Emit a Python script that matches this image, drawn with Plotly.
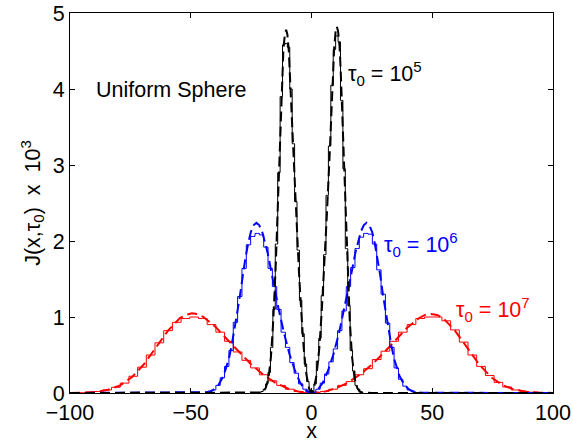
import numpy as np
import plotly.graph_objects as go

# ---------------- data ----------------
# Analytic (dashed) curves
black_x = [-100, -25, -21, -19.9, -18.9, -17.8, -16.8, -15.8, -15.2, -14.7,
           -14.2, -13.6, -13.1, -12.6, -12.1, -11.6, -11.0, -10.5, -10.0, -9.4,
           -8.4, -7.4, -6.3, -5.2, -4.2, -3.2, -2.1, -1.0, 0,
           1.0, 2.1, 3.2, 4.2, 5.2, 6.3, 7.4, 8.4, 9.4, 10.0,
           10.5, 11.0, 11.6, 12.1, 12.6, 13.1, 13.6, 14.2, 14.7, 15.2,
           15.8, 16.8, 17.8, 18.9, 19.9, 21, 25, 100]
black_y = [0, 0, 0.006, 0.02, 0.07, 0.20, 0.47, 0.97, 1.33, 1.76,
           2.24, 2.77, 3.30, 3.79, 4.22, 4.55, 4.72, 4.78, 4.72, 4.50,
           3.80, 3.05, 2.30, 1.60, 1.05, 0.58, 0.24, 0.06, 0,
           0.06, 0.24, 0.58, 1.05, 1.60, 2.30, 3.05, 3.85, 4.55, 4.76,
           4.82, 4.76, 4.57, 4.24, 3.81, 3.32, 2.79, 2.25, 1.77, 1.34,
           0.98, 0.47, 0.20, 0.07, 0.02, 0.006, 0, 0]

blue_x = [-100, -46, -43.3, -41.0, -38.8, -36.5, -34.2, -33.1, -31.9, -30.8,
          -29.6, -28.5, -27.4, -26.2, -25.1, -23.9, -22.8, -21.7, -20.5, -18.2,
          -16.0, -13.7, -11.4, -9.1, -6.8, -4.6, -2.3, 0,
          2.3, 4.6, 6.8, 9.1, 11.4, 13.7, 16.0, 18.2, 20.5, 21.7,
          22.8, 23.9, 25.1, 26.2, 27.4, 28.5, 29.6, 30.8, 31.9, 33.1,
          34.2, 36.5, 38.8, 41.0, 43.3, 46, 100]
blue_y = [0, 0.003, 0.011, 0.034, 0.09, 0.22, 0.45, 0.62, 0.82, 1.05,
          1.29, 1.54, 1.77, 1.97, 2.12, 2.21, 2.24, 2.21, 2.13, 1.85,
          1.49, 1.12, 0.79, 0.51, 0.29, 0.13, 0.03, 0,
          0.03, 0.13, 0.29, 0.51, 0.79, 1.12, 1.49, 1.85, 2.13, 2.21,
          2.24, 2.21, 2.12, 1.97, 1.77, 1.54, 1.29, 1.05, 0.82, 0.62,
          0.45, 0.22, 0.09, 0.034, 0.011, 0.003, 0]

red_x = [-100, -99.0, -94.1, -89.1, -84.2, -79.2, -74.3, -69.3, -64.4, -59.4,
         -54.5, -52.0, -49.5, -47.0, -44.6, -39.6, -34.7, -29.7, -24.8, -19.8,
         -14.9, -9.9, -5.0, 0, 5.0, 9.9, 14.9, 19.8, 24.8, 29.7,
         34.7, 39.6, 44.6, 47.0, 49.5, 52.0, 54.5, 59.4, 64.4, 69.3,
         74.3, 79.2, 84.2, 89.1, 94.1, 99.0, 100]
red_y = [0.001, 0.001, 0.005, 0.016, 0.043, 0.101, 0.210, 0.381, 0.600, 0.821,
         0.985, 1.027, 1.05, 1.038, 0.997, 0.866, 0.698, 0.527, 0.370, 0.238,
         0.134, 0.060, 0.015, 0, 0.015, 0.059, 0.133, 0.236, 0.367, 0.522,
         0.692, 0.858, 0.987, 1.028, 1.04, 1.027, 0.985, 0.821, 0.600, 0.381,
         0.210, 0.101, 0.043, 0.016, 0.005, 0.001, 0.001]

# Monte-Carlo histograms (solid steps)
black_bins = np.round(np.arange(-21.5, 21.6, 1.0), 2)
black_hist = [0.0, 0.02, 0.05, 0.12, 0.27, 0.60, 1.10, 1.96, 2.90, 3.90,
              4.58, 4.60, 4.55, 4.00, 3.28, 2.52, 1.88, 1.22, 0.78, 0.38,
              0.15, 0.02,
              0.02, 0.12, 0.42, 0.72, 1.28, 1.82, 2.60, 3.25, 4.05, 4.52,
              4.70, 4.62, 3.85, 2.95, 1.90, 1.15, 0.56, 0.29, 0.10, 0.05,
              0.01, 0.0]

blue_bins = np.round(np.arange(-44.1, 44.2, 1.8), 2)
blue_hist = [0.005, 0.02, 0.04, 0.10, 0.20, 0.35, 0.56, 0.93, 1.27, 1.64,
             1.95, 2.06, 2.10, 2.08, 1.92, 1.64, 1.40, 1.10, 0.80, 0.60,
             0.40, 0.26, 0.12, 0.05, 0.01,
             0.01, 0.05, 0.13, 0.25, 0.41, 0.58, 0.82, 1.08, 1.40, 1.65,
             1.90, 2.05, 2.10, 2.09, 1.96, 1.62, 1.30, 0.92, 0.60, 0.33,
             0.18, 0.09, 0.04, 0.015, 0.005]

red_bins = np.round(np.arange(-99.0, 99.1, 3.6), 2)
red_hist = [0.002, 0.004, 0.01, 0.02, 0.04, 0.075, 0.13, 0.22, 0.34, 0.50,
            0.66, 0.82, 0.93, 0.98, 1.00, 0.98, 0.90, 0.80, 0.68, 0.54,
            0.43, 0.33, 0.24, 0.16, 0.10, 0.05, 0.02, 0.005,
            0.005, 0.02, 0.05, 0.10, 0.15, 0.24, 0.32, 0.44, 0.55, 0.68,
            0.80, 0.90, 0.98, 1.00, 1.00, 0.95, 0.83, 0.67, 0.50, 0.35,
            0.23, 0.14, 0.08, 0.04, 0.02, 0.01, 0.005, 0.002]

x_ticks = [-100, -50, 0, 50, 100]
x_ticktext = ["\u2212100", "\u221250", "0", "50", "100"]
y_ticks = [0, 1, 2, 3, 4, 5]

# ---------------- figure ----------------
FONT = "Liberation Sans, Arial, Helvetica, sans-serif"
FS = 21.5
DASH = "10px,5px"

fig = go.Figure()

series = [
    (red_bins, red_hist, red_x, red_y, "#ff0000"),
    (blue_bins, blue_hist, blue_x, blue_y, "#0000ff"),
    (black_bins, black_hist, black_x, black_y, "#000000"),
]
for bx, by, cx, cy, col in series:
    fig.add_trace(go.Scatter(x=bx, y=by, mode="lines",
                             line=dict(color=col, width=1, shape="hvh"),
                             hoverinfo="skip", showlegend=False))
    fig.add_trace(go.Scatter(x=cx, y=cy, mode="lines",
                             line=dict(color=col, width=2, dash=DASH),
                             hoverinfo="skip", showlegend=False))

annots = [
    dict(x=-90.0, y=3.99, text="Uniform Sphere", color="#000000"),
    dict(x=14.3, y=4.2, text="\u03c4<sub>0</sub> = 10<sup>5</sup>", color="#000000"),
    dict(x=29.3, y=1.95, text="\u03c4<sub>0</sub> = 10<sup>6</sup>", color="#0000ff"),
    dict(x=58.8, y=1.1, text="\u03c4<sub>0</sub> = 10<sup>7</sup>", color="#ff0000"),
]
for a in annots:
    fig.add_annotation(x=a["x"], y=a["y"], text=a["text"], showarrow=False,
                       xanchor="left", yanchor="middle",
                       font=dict(family=FONT, size=FS, color=a["color"]))

fig.update_layout(
    width=573, height=443,
    margin=dict(l=70, r=20, t=13, b=50),
    paper_bgcolor="white", plot_bgcolor="white",
    font=dict(family=FONT, size=FS, color="black"),
    xaxis=dict(range=[-100, 100], tickvals=x_ticks, ticktext=x_ticktext,
               ticks="inside", ticklen=5, tickcolor="black",
               tickfont=dict(size=FS),
               showline=True, linecolor="black", linewidth=1, mirror="ticks",
               showgrid=False, zeroline=False, automargin=False,
               title=dict(text="x", standoff=0, font=dict(size=FS))),
    yaxis=dict(range=[0, 5], tickvals=y_ticks,
               ticks="inside", ticklen=5, tickcolor="black",
               tickfont=dict(size=FS),
               showline=True, linecolor="black", linewidth=1, mirror="ticks",
               showgrid=False, zeroline=False, automargin=False,
               title=dict(text="J(x,\u03c4<sub>0</sub>)  x  10<sup>3</sup>",
                          standoff=6, font=dict(size=FS))),
)

fig.write_html("out.html")
